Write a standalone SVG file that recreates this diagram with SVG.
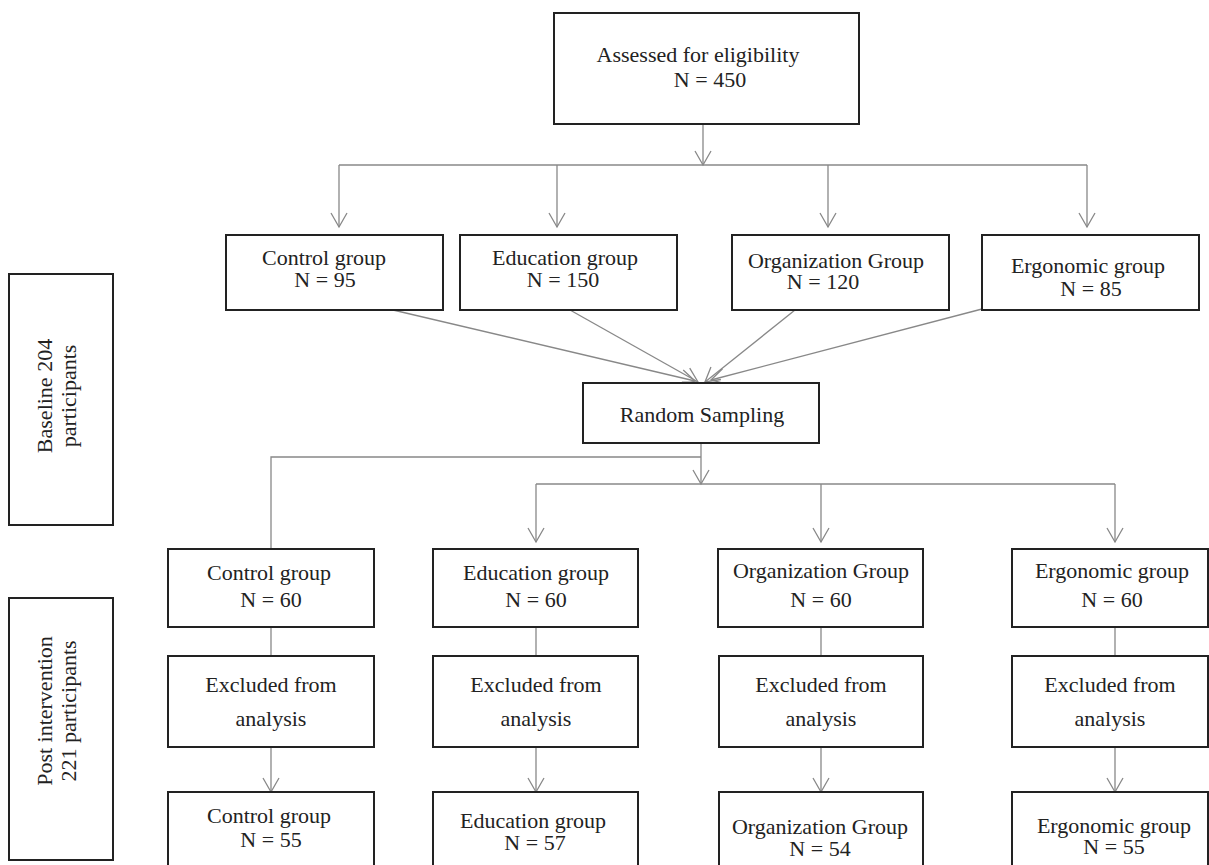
<svg xmlns="http://www.w3.org/2000/svg" width="1209" height="865" viewBox="0 0 1209 865">
<defs>
<marker id="arr" markerUnits="userSpaceOnUse" orient="auto" refX="0" refY="0" markerWidth="20" markerHeight="20" overflow="visible">
<path d="M -14 -8 L 0 0 L -14 8" fill="none" stroke="#888" stroke-width="1.3"/>
</marker>
</defs>
<style>
.box{fill:#fff;stroke:#222;stroke-width:2}
.t{font-family:"Liberation Serif","Times New Roman",serif;font-size:22px;fill:#222;text-anchor:middle}
.c{fill:none;stroke:#888;stroke-width:1.3}
.a{marker-end:url(#arr)}
</style>
<rect width="1209" height="865" fill="#fff"/>
<g id="connectors">
<line class="c a" x1="703" y1="124" x2="703" y2="165"/>
<line class="c" x1="339" y1="165" x2="1087" y2="165"/>
<line class="c a" x1="339" y1="165" x2="339" y2="227"/>
<line class="c a" x1="557" y1="165" x2="557" y2="227"/>
<line class="c a" x1="828" y1="165" x2="828" y2="227"/>
<line class="c a" x1="1087" y1="165" x2="1087" y2="227"/>
<line class="c a" x1="393" y1="310" x2="695" y2="381"/>
<line class="c a" x1="570" y1="310" x2="698" y2="382"/>
<line class="c a" x1="795" y1="310" x2="705" y2="382"/>
<line class="c a" x1="982" y1="309" x2="711" y2="380"/>
<line class="c a" x1="701" y1="443" x2="701" y2="484"/>
<polyline class="c" points="701,457 271,457 271,549"/>
<line class="c" x1="536" y1="484" x2="1115" y2="484"/>
<line class="c a" x1="536" y1="484" x2="536" y2="542"/>
<line class="c a" x1="821" y1="484" x2="821" y2="542"/>
<line class="c a" x1="1115" y1="484" x2="1115" y2="542"/>
<line class="c" x1="271" y1="627" x2="271" y2="656"/>
<line class="c" x1="536" y1="627" x2="536" y2="656"/>
<line class="c" x1="821" y1="627" x2="821" y2="656"/>
<line class="c" x1="1115" y1="627" x2="1115" y2="656"/>
<line class="c a" x1="271" y1="747" x2="271" y2="792"/>
<line class="c a" x1="536" y1="747" x2="536" y2="792"/>
<line class="c a" x1="821" y1="747" x2="821" y2="792"/>
<line class="c a" x1="1115" y1="747" x2="1115" y2="792"/>
</g>
<g id="assessed"><rect class="box" x="554" y="13" width="305" height="111"/>
<text class="t" x="698" y="62">Assessed for eligibility</text><text class="t" x="710" y="87">N = 450</text></g>
<g id="control1"><rect class="box" x="226" y="235" width="217" height="75"/>
<text class="t" x="324" y="265">Control group</text><text class="t" x="325" y="287">N = 95</text></g>
<g id="education1"><rect class="box" x="460" y="235" width="217" height="75"/>
<text class="t" x="565" y="265">Education group</text><text class="t" x="563" y="287">N = 150</text></g>
<g id="organization1"><rect class="box" x="732" y="235" width="217" height="75"/>
<text class="t" x="836" y="268">Organization Group</text><text class="t" x="823" y="289">N = 120</text></g>
<g id="ergonomic1"><rect class="box" x="982" y="235" width="217" height="75"/>
<text class="t" x="1088" y="273">Ergonomic group</text><text class="t" x="1091" y="296">N = 85</text></g>
<g id="random"><rect class="box" x="583" y="383" width="236" height="60"/>
<text class="t" x="702" y="422">Random Sampling</text></g>
<g id="baseline"><rect class="box" x="9" y="274" width="104" height="251"/>
<text class="t" transform="translate(52,396) rotate(-90)">Baseline 204</text><text class="t" transform="translate(76,396) rotate(-90)">participants</text></g>
<g id="post"><rect class="box" x="9" y="598" width="104" height="262"/>
<text class="t" transform="translate(52,711) rotate(-90)">Post intervention</text><text class="t" transform="translate(76,711) rotate(-90)">221 participants</text></g>
<g id="control2"><rect class="box" x="168" y="549" width="206" height="78"/>
<text class="t" x="269" y="580">Control group</text><text class="t" x="271" y="607">N = 60</text></g>
<g id="education2"><rect class="box" x="433" y="549" width="205" height="78"/>
<text class="t" x="536" y="580">Education group</text><text class="t" x="536" y="607">N = 60</text></g>
<g id="organization2"><rect class="box" x="718" y="549" width="205" height="78"/>
<text class="t" x="821" y="578">Organization Group</text><text class="t" x="821" y="607">N = 60</text></g>
<g id="ergonomic2"><rect class="box" x="1012" y="549" width="196" height="78"/>
<text class="t" x="1112" y="578">Ergonomic group</text><text class="t" x="1112" y="607">N = 60</text></g>
<g id="excl1"><rect class="box" x="168" y="656" width="206" height="91"/>
<text class="t" x="271" y="692">Excluded from</text><text class="t" x="271" y="726">analysis</text></g>
<g id="excl2"><rect class="box" x="433" y="656" width="205" height="91"/>
<text class="t" x="536" y="692">Excluded from</text><text class="t" x="536" y="726">analysis</text></g>
<g id="excl3"><rect class="box" x="719" y="656" width="204" height="91"/>
<text class="t" x="821" y="692">Excluded from</text><text class="t" x="821" y="726">analysis</text></g>
<g id="excl4"><rect class="box" x="1012" y="656" width="196" height="91"/>
<text class="t" x="1110" y="692">Excluded from</text><text class="t" x="1110" y="726">analysis</text></g>
<g id="control3"><rect class="box" x="168" y="792" width="206" height="90"/>
<text class="t" x="269" y="823">Control group</text><text class="t" x="271" y="847">N = 55</text></g>
<g id="education3"><rect class="box" x="433" y="792" width="205" height="90"/>
<text class="t" x="533" y="828">Education group</text><text class="t" x="535" y="850">N = 57</text></g>
<g id="organization3"><rect class="box" x="719" y="792" width="204" height="90"/>
<text class="t" x="820" y="834">Organization Group</text><text class="t" x="820" y="856">N = 54</text></g>
<g id="ergonomic3"><rect class="box" x="1012" y="792" width="196" height="90"/>
<text class="t" x="1114" y="833">Ergonomic group</text><text class="t" x="1114" y="854">N = 55</text></g>
</svg>
